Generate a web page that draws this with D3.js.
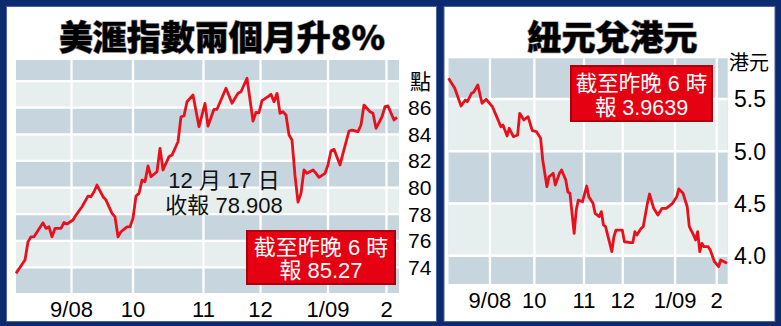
<!DOCTYPE html>
<html><head><meta charset="utf-8">
<script src="https://cdn.jsdelivr.net/npm/d3@7"></script>
<style>
html,body{margin:0;padding:0;background:#0c2a6e;}
svg{display:block}
</style></head><body>
<svg id="c" width="781" height="326"></svg>
<script>
// ---------- DATA ----------
// Left: US dollar index (trading-day index, value)
const usdTitle = "美滙指數兩個月升8%";
const usdUnit = "點";
const usdGridTicks = [74, 76, 78, 80, 82, 84, 86, 88];
const usdTickLabels = [74, 76, 78, 80, 82, 84, 86];
const usdMonthLabels = ["9/08", "10", "11", "12", "1/09", "2"];
const usdMonthDays = [18.5, 39, 62.5, 81.5, 104, 123.5];
const usdDays = [0,3,4,5,6,9,10,11,12,13,15,16,17,19,20,22,24,25,26,27,29,30,32,33,34,35,37,38,39,40,41,42,43,44,45,47,48,49,51,52,54,55,56,57,59,61,63,64,66,67,70,72,74,75,77,79,80,81,82,84,85,86,87,88,89,90,91,92,93,94,95,96,97,99,100,101,103,104,105,106,108,109,111,112,114,115,116,118,119,120,122,123,124,126,127];
const usdValues = [73.55,74.55,75.92,76.30,76.30,77.35,76.93,77.05,76.30,76.93,76.93,77.38,77.26,77.56,77.93,78.56,79.36,79.31,79.68,80.19,79.31,79.06,78.06,77.80,76.30,76.68,77.05,77.05,77.68,79.36,79.56,80.56,80.44,81.62,80.81,81.19,82.95,81.32,82.32,82.44,83.44,85.32,85.38,86.45,86.95,84.57,86.33,84.62,85.88,85.88,87.46,86.33,87.08,87.20,88.21,85.00,85.65,85.62,86.53,86.83,87.01,86.45,87.08,85.58,85.70,85.45,83.95,83.57,80.90,78.908,79.56,81.32,81.07,81.32,81.07,80.77,81.07,81.69,82.77,82.87,81.69,82.57,84.25,84.32,84.20,84.70,86.20,85.70,85.58,84.45,85.32,86.08,86.13,85.08,85.27];
const usdNote = ["12 月 17 日", "收報 78.908"];
const usdBox = ["截至昨晚 6 時", "報 85.27"];

// Right: NZD / HKD
const nzdTitle = "紐元兌港元";
const nzdUnit = "港元";
const nzdGridTicks = [4.0, 4.5, 5.0, 5.5];
const nzdTickLabels = ["4.0", "4.5", "5.0", "5.5"];
const nzdMonthLabels = ["9/08", "10", "11", "12", "1/09", "2"];
const nzdMonthDays = [19.8, 41, 64.7, 83.2, 108.2, 128.1];
const nzdDays = [0,3,6,8,9,11,12,14,16,18,21,23,25,26,28,29,31,33,34,36,38,40,42,44,45,47,48,50,51,53,54,56,57,58,60,61,62,64,66,67,69,70,72,73,74,75,78,79,80,83,84,87,88,89,90,92,93,95,96,98,100,102,104,107,109,110,112,114,115,117,118,119,120,121,122,124,125,127,129,130,133];
const nzdValues = [5.698,5.602,5.433,5.490,5.474,5.555,5.564,5.634,5.459,5.497,5.426,5.331,5.235,5.251,5.146,5.220,5.139,5.155,5.363,5.299,5.331,5.197,5.187,5.124,4.916,4.661,4.756,4.789,4.677,4.789,4.821,4.725,4.610,4.598,4.215,4.438,4.533,4.517,4.667,4.565,4.502,4.406,4.374,4.422,4.294,4.278,4.039,4.182,4.246,4.246,4.134,4.125,4.125,4.230,4.199,4.263,4.278,4.502,4.591,4.454,4.390,4.454,4.454,4.502,4.565,4.639,4.598,4.469,4.278,4.199,4.151,4.230,4.039,4.119,4.087,4.087,4.055,3.943,3.895,3.959,3.928];
const nzdBox = ["截至昨晚 6 時", "報 3.9639"];

// ---------- DRAW ----------
const svg = d3.select("#c");
const NAVY = "#0c2a6e", DARK = "#c7d6de", LIGHT = "#e7eeee", RED = "#e8101a";
const NUM = "'Liberation Sans', Arial, 'Noto Sans CJK TC', sans-serif";
const CJK = "'Liberation Sans', 'Noto Sans CJK TC', sans-serif";

svg.append("rect").attr("width", 781).attr("height", 326).attr("fill", NAVY);

function panel(cfg) {
  const g = svg.append("g");
  g.append("rect").attr("x", cfg.panel[0]).attr("y", cfg.panel[1])
    .attr("width", cfg.panel[2]).attr("height", cfg.panel[3])
    .attr("fill", "#fff").attr("stroke", "#4a63a0").attr("stroke-width", 1);

  // title
  g.append("text").attr("x", cfg.titleX).attr("y", 50)
    .attr("text-anchor", "middle")
    .attr("font-family", "'Noto Sans CJK TC', 'Noto Sans CJK SC', sans-serif")
    .attr("font-weight", 900).attr("font-size", 34)
    .attr("fill", "#000").attr("stroke", "#888").attr("stroke-width", 1.2)
    .attr("paint-order", "stroke")
    .text(cfg.title);

  const [px0, px1, py0, py1] = cfg.plot;
  const x = d3.scaleLinear().domain(cfg.xDomain).range(cfg.xRange);
  const y = d3.scaleLinear().domain(cfg.yDomain).range(cfg.yRange);

  // background (dark) + light bands
  g.append("rect").attr("x", px0).attr("y", py0).attr("width", px1 - px0).attr("height", py1 - py0).attr("fill", DARK);
  const bands = [];
  for (let i = 0; i + 1 < cfg.gridTicks.length; i += 2) bands.push([cfg.gridTicks[i], cfg.gridTicks[i + 1]]);
  g.selectAll(null).data(bands).join("rect")
    .attr("x", px0).attr("width", px1 - px0)
    .attr("y", d => y(d[1])).attr("height", d => y(d[0]) - y(d[1]))
    .attr("fill", LIGHT);

  // gridlines
  g.selectAll(null).data(cfg.gridTicks).join("line")
    .attr("x1", px0).attr("x2", px1).attr("y1", d => y(d)).attr("y2", d => y(d))
    .attr("stroke", "#fff").attr("stroke-width", 2.3);
  g.selectAll(null).data(cfg.monthDays).join("line")
    .attr("x1", d => x(d)).attr("x2", d => x(d)).attr("y1", py0).attr("y2", py1)
    .attr("stroke", "#fff").attr("stroke-width", 2.3);

  // y labels
  g.selectAll(null).data(cfg.tickLabels).join("text")
    .attr("x", cfg.yLabelX).attr("y", d => y(+d))
    .attr("dy", "0.36em")
    .attr("font-family", NUM).attr("font-size", cfg.yFont).attr("fill", "#000")
    .text(d => d);
  g.append("text").attr("x", cfg.unitPos[0]).attr("y", cfg.unitPos[1])
    .attr("font-family", CJK).attr("font-size", cfg.unitFont).attr("fill", "#000")
    .text(cfg.unit);

  // x labels
  g.selectAll(null).data(cfg.monthLabels).join("text")
    .attr("x", (d, i) => x(cfg.monthDays[i])).attr("y", py1 + 24)
    .attr("text-anchor", "middle")
    .attr("font-family", NUM).attr("font-size", 22).attr("fill", "#000")
    .text(d => d);

  // line
  const pts = cfg.days.map((d, i) => [d, cfg.values[i]]);
  g.append("path").datum(pts)
    .attr("d", d3.line().x(d => x(d[0])).y(d => y(d[1])))
    .attr("fill", "none").attr("stroke", RED).attr("stroke-width", 2.8)
    .attr("stroke-linejoin", "round");

  // red box
  const b = cfg.box;
  g.append("rect").attr("x", b.x).attr("y", b.y).attr("width", b.w).attr("height", b.h)
    .attr("fill", "#e50012").attr("stroke", "#a8000c").attr("stroke-width", 2);
  g.selectAll(null).data(cfg.boxText).join("text")
    .attr("x", b.x + b.w / 2).attr("y", (d, i) => b.y + b.base[i])
    .attr("text-anchor", "middle")
    .attr("font-family", CJK).attr("font-size", b.font).attr("fill", "#fff")
    .text(d => d);

  return g;
}

const gl = panel({
  panel: [6.5, 6.5, 430, 315],
  title: usdTitle, titleX: 222,
  plot: [16, 399, 60, 293],
  xDomain: [0, 127], xRange: [16, 397],
  yDomain: [74, 86], yRange: [267.4, 107.7],
  gridTicks: usdGridTicks, tickLabels: usdTickLabels,
  monthDays: usdMonthDays, monthLabels: usdMonthLabels,
  yLabelX: 408, yFont: 21, unit: usdUnit, unitPos: [410, 89], unitFont: 21,
  days: usdDays, values: usdValues,
  box: {x: 247, y: 231, w: 148, h: 53, base: [24, 47], font: 22},
  boxText: usdBox
});
gl.selectAll(null).data(usdNote).join("text")
  .attr("x", 224).attr("y", (d, i) => 188 + i * 24.5)
  .attr("text-anchor", "middle")
  .attr("font-family", CJK).attr("font-size", 22).attr("fill", "#111")
  .text(d => d);

panel({
  panel: [444, 6.5, 331, 315],
  title: nzdTitle, titleX: 612.5,
  plot: [448.5, 727.7, 58.3, 284],
  xDomain: [0, 133], xRange: [448.5, 727],
  yDomain: [4.0, 5.5], yRange: [255.75, 99],
  gridTicks: nzdGridTicks, tickLabels: nzdTickLabels,
  monthDays: nzdMonthDays, monthLabels: nzdMonthLabels,
  yLabelX: 734, yFont: 23, unit: nzdUnit, unitPos: [729, 70], unitFont: 20,
  days: nzdDays, values: nzdValues,
  box: {x: 571, y: 66, w: 141, h: 55, base: [25, 49], font: 21.5},
  boxText: nzdBox
});
</script>
</body></html>
